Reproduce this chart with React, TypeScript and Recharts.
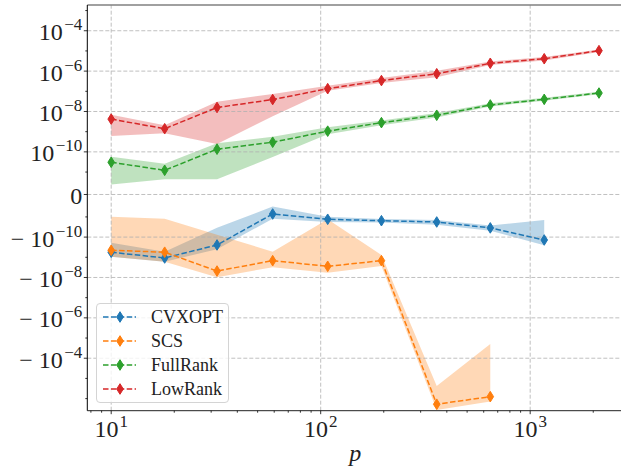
import React from "react";
import { ComposedChart, Line, Area, XAxis, YAxis, ReferenceLine, Legend } from "recharts";

// problem size p (x axis, log scale)
const pValues = [10, 18, 32, 59, 108, 195, 358, 645, 1167, 2130];

// CVXOPT: mean and band
const cvxMean = [-5.6e-10, -1.08e-9, -2.45e-10, -8.7e-12, -1.31e-11, -1.54e-11, -1.78e-11, -3.5e-11, -1.39e-10];
const cvxUpper = [-1.89e-10, -5.3e-10, -3.4e-11, -5.4e-12, -9.9e-12, -1.26e-11, -1.42e-11, -2.65e-11, -1.42e-11];
const cvxLower = [-9.3e-10, -1.65e-9, -4.0e-10, -1.22e-11, -1.78e-11, -1.9e-11, -2.43e-11, -4.8e-11, -2.54e-10];

// SCS
const scsMean = [-4.5e-10, -5.6e-10, -4.8e-9, -1.47e-9, -2.8e-9, -1.47e-9, -1.9e-2, -8.0e-3];
const scsUpper = [-9.9e-12, -1.22e-11, -7.6e-11, -5.3e-10, -1.31e-11, -7.7e-10, -2.4e-3, -2.0e-5];
const scsLower = [-9.3e-10, -1.65e-9, -9.8e-9, -3.1e-9, -5.8e-9, -2.7e-9, -3.7e-2, -1.4e-2];

// FullRank
const fullMean = [3.05e-11, 1.22e-11, 1.36e-10, 3.0e-10, 1.06e-9, 2.8e-9, 6.5e-9, 2.1e-8, 4.0e-8, 8.2e-8];
const fullUpper = [5.8e-11, 2.6e-11, 2.66e-10, 5.6e-10, 1.65e-9, 3.6e-9, 8.4e-9, 2.55e-8, 4.8e-8, 9.5e-8];
const fullLower = [4.4e-12, 6.8e-12, 6.8e-12, 5.6e-11, 7.4e-10, 2.1e-9, 5.0e-9, 1.77e-8, 3.4e-8, 7.1e-8];

// LowRank
const lowMean = [4.2e-9, 1.4e-9, 1.58e-8, 3.9e-8, 1.35e-7, 3.4e-7, 7.4e-7, 2.44e-6, 4.1e-6, 1.03e-5];
const lowUpper = [6.9e-9, 2.1e-9, 3.05e-8, 7.4e-8, 1.9e-7, 4.6e-7, 1.05e-6, 3.0e-6, 5.0e-6, 1.18e-5];
const lowLower = [6.1e-10, 8.3e-10, 2.45e-10, 5.8e-9, 1.07e-7, 2.6e-7, 4.9e-7, 2.0e-6, 3.4e-6, 8.9e-6];

const xMajorTicks = [10, 100, 1000];
const xMinorTicks = [8, 9, 20, 30, 40, 50, 60, 70, 80, 90, 200, 300, 400, 500, 600, 700, 800, 900, 2000];
const yMajorTicks = [1e-4, 1e-6, 1e-8, 1e-10, 0, -1e-10, -1e-8, -1e-6, -1e-4];
const yMinorTicks = [1e-3, 1e-5, 1e-7, 1e-9, 1e-11, -1e-11, -1e-9, -1e-7, -1e-5, -1e-3, -1e-2];

const FONT = "'Liberation Serif', 'DejaVu Serif', serif";

// symmetric log transform, linthresh 1e-11, base 10, linscale 1 (as matplotlib)
const LINTHRESH = 1e-11;
const LINSCALE = 1 / (1 - 1 / 10);
const symlog = (v: number) => {
  const a = Math.abs(v);
  const t = a <= LINTHRESH ? (a / LINTHRESH) * LINSCALE : LINSCALE + Math.log10(a / LINTHRESH);
  return v < 0 ? -t : t;
};

const yDomain = [-10.71, 9.386];
const xDomain = [7.69, 2786];

const build = (mean: number[], upper: number[], lower: number[]) =>
  mean.map((m, i) => ({
    p: pValues[i],
    y: symlog(m),
    band: [symlog(lower[i]), symlog(upper[i])],
  }));

const series = [
  { name: "CVXOPT", color: "#1f77b4", data: build(cvxMean, cvxUpper, cvxLower) },
  { name: "SCS", color: "#ff7f0e", data: build(scsMean, scsUpper, scsLower) },
  { name: "FullRank", color: "#2ca02c", data: build(fullMean, fullUpper, fullLower) },
  { name: "LowRank", color: "#d62728", data: build(lowMean, lowUpper, lowLower) },
];

const yMajorT = yMajorTicks.map(symlog);
const yAllT = [...yMajorT, ...yMinorTicks.map(symlog)];

const baseText = { fontFamily: FONT, fontSize: "24px", fill: "#222" };
const supText = { fontSize: "17px" };

const Diamond = (props: any) => {
  const { cx, cy, fill } = props;
  if (cx == null || cy == null) return null;
  return <path d={`M${cx},${cy - 5.3}L${cx + 3.3},${cy}L${cx},${cy + 5.3}L${cx - 3.3},${cy}Z`} fill={fill} stroke={fill} strokeWidth={1} />;
};

const YTick = (props: any) => {
  const { x, y, payload } = props;
  const idx = yMajorT.findIndex((m) => Math.abs(m - payload.value) < 1e-6);
  const major = idx >= 0;
  let label: React.ReactNode = null;
  if (major) {
    const v = yMajorTicks[idx];
    if (v === 0) {
      label = "0";
    } else {
      const exp = Math.round(Math.log10(Math.abs(v)));
      label = (
        <>
          <tspan>{v < 0 ? "− 10" : "10"}</tspan>
          <tspan dx={1.5} dy={-10} style={supText}>{`−${Math.abs(exp)}`}</tspan>
        </>
      );
    }
  }
  return (
    <g>
      <line x1={x} x2={x - (major ? 3.5 : 2)} y1={y} y2={y} stroke="#000" strokeWidth={0.8} />
      {major && (
        <text x={x - 5} y={y + 9.5} textAnchor="end" style={baseText}>
          {label}
        </text>
      )}
    </g>
  );
};

const XTick = (props: any) => {
  const { x, y, payload } = props;
  const v = payload.value;
  const major = xMajorTicks.includes(v);
  return (
    <g>
      <line x1={x} x2={x} y1={y} y2={y + (major ? 3.5 : 2)} stroke="#000" strokeWidth={0.8} />
      {major && (
        <text x={x} y={y + 26} textAnchor="middle" style={baseText}>
          10<tspan dx={1} dy={-10} style={supText}>{Math.round(Math.log10(v))}</tspan>
        </text>
      )}
    </g>
  );
};

const LegendBox = () => (
  <div
    style={{
      width: 133,
      height: 100,
      boxSizing: "border-box",
      border: "1px solid #d4d4d4",
      borderRadius: 4,
      background: "rgba(255,255,255,0.8)",
      fontFamily: FONT,
      fontSize: 18,
      color: "#222",
      paddingTop: 1,
    }}
  >
    {series.map((s) => (
      <div key={s.name} style={{ display: "flex", alignItems: "center", height: 24.2 }}>
        <svg width={54} height={14} style={{ flex: "none" }}>
          <line x1={6} x2={39} y1={7} y2={7} stroke={s.color} strokeWidth={1.5} strokeDasharray="5.5 2.4" />
          <Diamond cx={23} cy={7} fill={s.color} />
        </svg>
        <span style={{ lineHeight: "20px" }}>{s.name}</span>
      </div>
    ))}
  </div>
);

const gridStyle = { stroke: "#b0b0b0", strokeDasharray: "4 2", strokeWidth: 0.8 };

export default function App() {
  return (
    <div style={{ position: "absolute", left: 0, top: 0, width: 621, height: 468, overflow: "hidden", background: "#fff" }}>
      <ComposedChart width={640} height={468} margin={{ top: 5, right: 16.6, bottom: 17.3, left: 0 }}>
        <XAxis
          dataKey="p"
          type="number"
          scale="log"
          domain={xDomain}
          allowDataOverflow
          ticks={[...xMajorTicks, ...xMinorTicks]}
          interval={0}
          tick={<XTick />}
          tickLine={false}
          tickSize={0}
          tickMargin={0}
          axisLine={{ stroke: "#222", strokeWidth: 1 }}
          height={40}
          label={(lp: any) => {
            const vb = lp.viewBox || { x: 87.3, y: 410.7, width: 536 };
            return (
              <text x={vb.x + vb.width / 2} y={vb.y + 50} textAnchor="middle" style={{ ...baseText, fontStyle: "italic" }}>
                p
              </text>
            );
          }}
        />
        <YAxis
          dataKey="y"
          type="number"
          domain={yDomain}
          allowDataOverflow
          ticks={yAllT}
          interval={0}
          tick={<YTick />}
          tickLine={false}
          tickSize={0}
          tickMargin={0}
          axisLine={{ stroke: "#000", strokeWidth: 1 }}
          width={87.3}
        />
        {yMajorT.map((t) => (
          <ReferenceLine key={`gy${t}`} y={t} {...gridStyle} />
        ))}
        {xMajorTicks.map((v) => (
          <ReferenceLine key={`gx${v}`} x={v} {...gridStyle} />
        ))}
        <ReferenceLine y={yDomain[1]} stroke="#808080" strokeWidth={1.5} ifOverflow="visible" />
        {series.map((s) => (
          <Area
            key={`a${s.name}`}
            data={s.data}
            dataKey="band"
            type="linear"
            stroke="none"
            fill={s.color}
            fillOpacity={0.3}
            dot={false}
            activeDot={false}
            legendType="none"
            isAnimationActive={false}
          />
        ))}
        {series.map((s) => (
          <Line
            key={`l${s.name}`}
            data={s.data}
            dataKey="y"
            name={s.name}
            type="linear"
            stroke={s.color}
            strokeWidth={1.5}
            strokeDasharray="5.5 2.4"
            dot={(dp: any) => <Diamond key={`d${s.name}${dp.index}`} cx={dp.cx} cy={dp.cy} fill={s.color} />}
            activeDot={false}
            isAnimationActive={false}
          />
        ))}
        <Legend
          content={<LegendBox />}
          layout="vertical"
          align="center"
          verticalAlign="middle"
          wrapperStyle={{ left: 96, top: 302.7, width: 133, height: 100 }}
        />
      </ComposedChart>
    </div>
  );
}
